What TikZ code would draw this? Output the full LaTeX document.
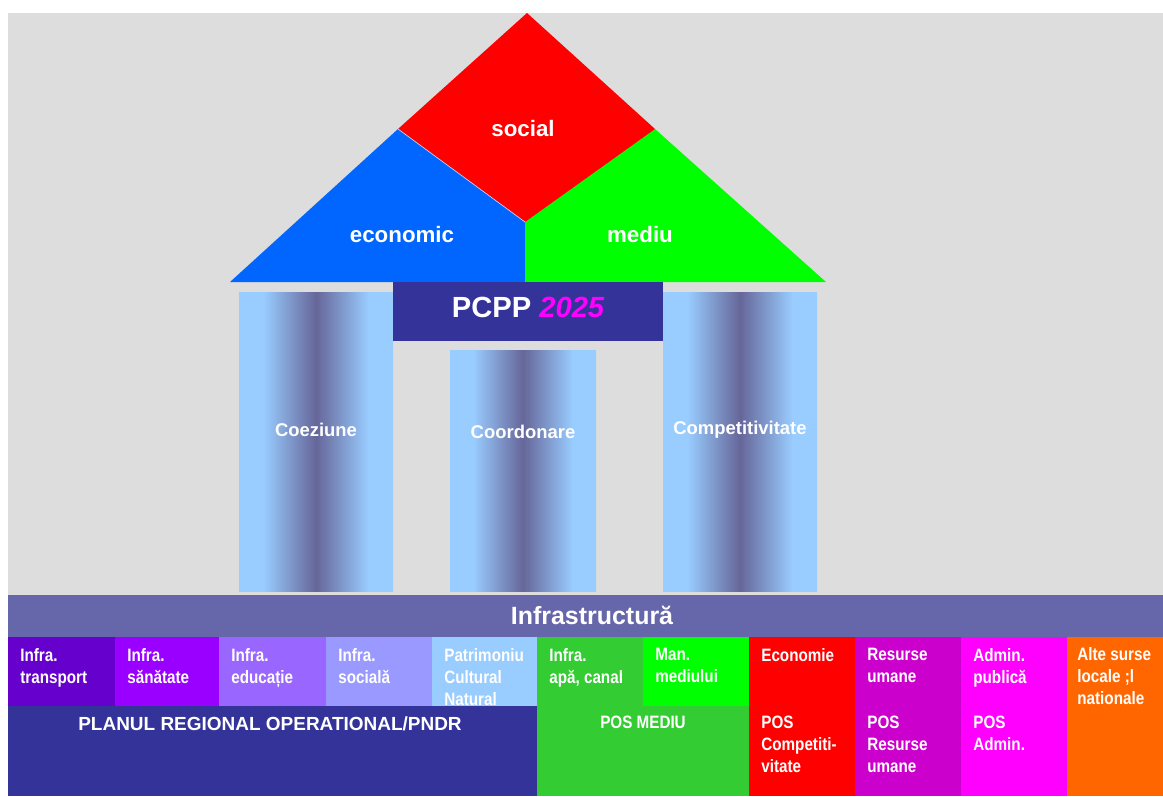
\documentclass[tikz,border=0pt]{standalone}
\usepackage{fontspec}
\setmainfont{Liberation Sans}
\newfontfamily\cellfont[FakeStretch=0.85]{Liberation Sans}
\definecolor{Bg}{RGB}{221,221,221}
\definecolor{Bar}{RGB}{102,102,170}
\definecolor{Navy}{RGB}{51,51,153}
\definecolor{Mag}{RGB}{255,0,255}
\definecolor{Rb}{RGB}{0,102,255}
\definecolor{Rg}{RGB}{0,255,0}
\definecolor{Rr}{RGB}{255,0,0}
\definecolor{Pl}{RGB}{153,204,255}
\definecolor{Pd}{RGB}{102,102,153}
\definecolor{Ca}{RGB}{102,0,204}
\definecolor{Cb}{RGB}{153,0,255}
\definecolor{Cc}{RGB}{153,102,255}
\definecolor{Cd}{RGB}{153,153,255}
\definecolor{Ce}{RGB}{153,204,255}
\definecolor{Cf}{RGB}{51,204,51}
\definecolor{Cg}{RGB}{0,255,0}
\definecolor{Ch}{RGB}{255,0,0}
\definecolor{Ci}{RGB}{204,0,204}
\definecolor{Cj}{RGB}{255,0,255}
\definecolor{Ck}{RGB}{255,102,0}
\pgfdeclarehorizontalshading{pillar}{100bp}{color(0bp)=(Pl); color(33bp)=(Pl); color(50bp)=(Pd); color(67bp)=(Pl); color(100bp)=(Pl)}

\begin{document}
\begin{tikzpicture}[x=0.02cm, y=-0.02cm, line join=round,
  every node/.style={text=white, inner sep=0pt},
  roof/.style={font=\bfseries\fontsize{12.7}{15}\selectfont},
  pil/.style={font=\bfseries\fontsize{10.5}{12.5}\selectfont},
  cell/.style={font=\cellfont\bfseries\fontsize{10.2}{12.5}\selectfont, align=left, anchor=north west}]
  \useasboundingbox (0,0) rectangle (1163,796);

  % background and base
  \fill[Bg] (8,13) rectangle (1163,595);
  \fill[Bar] (8,595) rectangle (1163,637);
  \node (infra) at (592,615) [font=\bfseries\fontsize{14.2}{17}\selectfont] {Infrastructură};

  % roof
  \fill[Rb] (230,282) -- (398,129) -- (525,222) -- (525,282) -- cycle;
  \fill[Rg] (525,282) -- (525,222) -- (655,129) -- (826,282) -- cycle;
  \fill[Rr] (527,13) -- (398,129) -- (525,222) -- (655,129) -- cycle;
  \draw[white!70!Rb, thin] (398,129) -- (525,222);
  \node (social) at (523,129) [roof] {social};
  \node (econ) at (402,235) [roof] {economic};
  \node (mediu) at (640,235) [roof] {mediu};

  % Pillars arrays
  \def\pilL#1{\ifcase#1 239\or 450\or 663\fi}
  \def\pilR#1{\ifcase#1 393\or 596\or 817\fi}
  \def\pilT#1{\ifcase#1 292\or 350\or 292\fi}
  \def\pilY#1{\ifcase#1 430\or 432\or 430\fi}
  \def\pilN#1{\ifcase#1 Coeziune\or Coordonare\or Competitivitate\fi}

  \foreach \i in {0,1,2}{
    \pgfmathsetmacro{\xa}{\pilL{\i}}
    \pgfmathsetmacro{\xb}{\pilR{\i}}
    \pgfmathsetmacro{\ya}{\pilT{\i}}
    \pgfmathsetmacro{\yl}{\pilY{\i}}
    \shade[shading=pillar] (\xa,\ya) rectangle (\xb,591);
    \node (pil\i) at ({(\xa+\xb)/2},\yl) [pil] {\pilN{\i}};
  }

  % PCPP box
  \fill[Navy] (393,282) rectangle (663,341);
  \node (pcpp) at (528,307) [font=\bfseries\fontsize{16.6}{19}\selectfont] {PCPP \textcolor{Mag}{\itshape 2025}};

  % Cells array
  \def\colx#1{\ifcase#1 8\or 115\or 219\or 326\or 432\or 537\or 643\or 749\or 855\or 961\or 1067\fi}
  \def\colc#1{\ifcase#1 Ca\or Cb\or Cc\or Cd\or Ce\or Cf\or Cg\or Ch\or Ci\or Cj\fi}
  \def\colt#1{\ifcase#1 Infra.\\transport\or Infra.\\sănătate\or Infra.\\educație\or Infra.\\socială\or Patrimoniu\\Cultural\\Natural\or Infra.\\apă, canal\or Man.\\mediului\or Economie\or Resurse\\umane\or Admin.\\publică\fi}

  \foreach \i in {0,...,9}{
    \pgfmathsetmacro{\xa}{\colx{\i}}
    \pgfmathtruncatemacro{\j}{\i+1}
    \pgfmathsetmacro{\xb}{\colx{\j}}
    \edef\cc{\colc{\i}}
    \begin{scope}
      \clip (\xa,637) rectangle (\xb,706);
      \fill[\cc] (\xa,637) rectangle (\xb,706);
      \node (top\i) at (\xa+12,648) [cell] {\colt{\i}};
    \end{scope}
  }

  % orange column, both rows
  \fill[Ck] (1067,637) rectangle (1163,796);
  \node (alte) at (1077,647) [cell] {Alte surse\\locale ;l\\nationale};

  % Lower row
  \def\lowx#1{\ifcase#1 8\or 537\or 749\or 855\or 961\or 1067\fi}
  \def\lowc#1{\ifcase#1 Navy\or Cf\or Ch\or Ci\or Cj\fi}
  \foreach \i in {0,...,4}{
    \pgfmathsetmacro{\xa}{\lowx{\i}}
    \pgfmathtruncatemacro{\j}{\i+1}
    \pgfmathsetmacro{\xb}{\lowx{\j}}
    \edef\cc{\lowc{\i}}
    \fill[\cc] (\xa,706) rectangle (\xb,796);
  }
  \node (prog) at (270,716) [anchor=north, font=\bfseries\fontsize{10.8}{12.5}\selectfont] {PLANUL REGIONAL OPERATIONAL/PNDR};
  \node (posm) at (643,716) [cell, anchor=north] {POS MEDIU};
  \node (posc) at (761,716) [cell] {POS\\Competiti-\\vitate};
  \node (posr) at (867,716) [cell] {POS\\Resurse\\umane};
  \node (posa) at (973,716) [cell] {POS\\Admin.};
\end{tikzpicture}
\end{document}
